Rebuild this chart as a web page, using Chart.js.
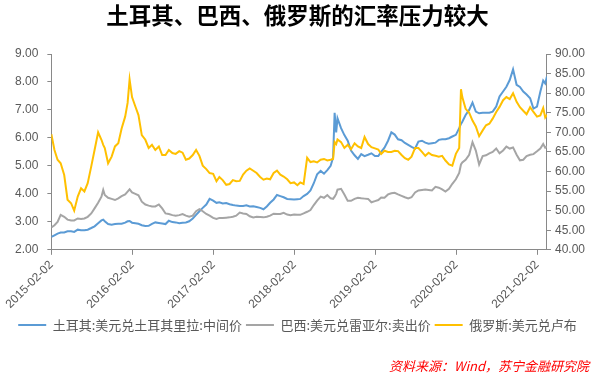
<!DOCTYPE html>
<html><head><meta charset="utf-8">
<script src="https://cdn.jsdelivr.net/npm/chart.js@4.4.1/dist/chart.umd.min.js"></script>
<style>html,body{margin:0;padding:0;background:#fff}</style>
</head><body>
<canvas id="c" width="595" height="377"></canvas>
<script>
const chartTitle = '土耳其、巴西、俄罗斯的汇率压力较大';
const sourceNote = '资料来源：Wind，苏宁金融研究院';
const seriesNames = ['土耳其:美元兑土耳其里拉:中间价', '巴西:美元兑雷亚尔:卖出价', '俄罗斯:美元兑卢布'];
const xTickLabels = ['2015-02-02','2016-02-02','2017-02-02','2018-02-02','2019-02-02','2020-02-02','2021-02-02'];

const dates = [
'2015-02-02','2015-02-16','2015-03-02','2015-03-16','2015-04-01','2015-04-16','2015-05-02','2015-05-16','2015-06-01','2015-06-16',
'2015-07-01','2015-07-16','2015-08-01','2015-08-16','2015-09-01','2015-09-16','2015-09-24','2015-10-01','2015-10-16','2015-11-01',
'2015-11-16','2015-12-01','2015-12-16','2016-01-01','2016-01-12','2016-01-21','2016-02-01','2016-02-16','2016-03-01','2016-03-16',
'2016-04-01','2016-04-16','2016-05-01','2016-05-16','2016-06-01','2016-06-16','2016-07-01','2016-07-16','2016-08-01',
'2016-08-16','2016-09-01','2016-09-16','2016-10-01','2016-10-16','2016-11-01','2016-11-16','2016-12-01','2016-12-16',
'2017-01-01','2017-01-16','2017-02-01','2017-02-16','2017-03-01','2017-03-16','2017-04-01','2017-04-16','2017-05-01','2017-05-16',
'2017-06-01','2017-06-16','2017-07-01','2017-07-16','2017-08-01','2017-08-16','2017-09-01','2017-09-16','2017-10-01','2017-10-16',
'2017-11-01','2017-11-16','2017-12-01','2017-12-16','2018-01-01','2018-01-16','2018-02-01','2018-02-16',
'2018-03-01','2018-03-16','2018-04-01','2018-04-16','2018-05-01','2018-05-16','2018-06-01','2018-06-16','2018-07-01','2018-07-16',
'2018-07-27','2018-08-03','2018-08-10','2018-08-16','2018-09-01','2018-09-16','2018-10-01','2018-10-16','2018-11-01','2018-11-16',
'2018-12-01','2018-12-16','2019-01-01','2019-01-16','2019-02-01','2019-02-16','2019-03-01','2019-03-16','2019-04-01','2019-04-16',
'2019-05-01','2019-05-16','2019-06-01','2019-06-16','2019-07-01','2019-07-16','2019-08-01',
'2019-08-16','2019-09-01','2019-09-16','2019-10-01','2019-10-16','2019-11-01','2019-11-16','2019-12-01','2019-12-16',
'2020-01-01','2020-01-16','2020-02-01','2020-02-16','2020-02-24','2020-03-01','2020-03-16','2020-04-01','2020-04-16','2020-05-01',
'2020-05-16','2020-06-01','2020-06-16','2020-07-01','2020-07-16','2020-08-01','2020-08-16','2020-09-01','2020-09-16','2020-10-01',
'2020-10-16','2020-11-01','2020-11-16','2020-12-01','2020-12-16','2021-01-01','2021-01-16','2021-02-01','2021-02-16','2021-03-01',
'2021-03-10','2021-03-18'
];

const turkey = [
2.46,2.52,2.58,2.62,2.62,2.66,2.66,2.64,2.72,2.70,
2.70,2.72,2.78,2.84,2.95,3.05,3.08,3.02,2.92,2.90,
2.92,2.93,2.93,2.97,3.02,3.03,2.97,2.95,2.93,2.88,
2.85,2.86,2.93,2.98,2.96,2.94,2.92,3.04,2.99,
2.98,2.95,2.97,2.98,3.02,3.12,3.25,3.38,3.50,
3.62,3.82,3.76,3.68,3.70,3.66,3.67,3.63,3.60,3.58,
3.57,3.57,3.59,3.55,3.56,3.53,3.50,3.45,3.55,3.68,
3.80,3.96,3.92,3.88,3.82,3.81,3.80,3.81,
3.82,3.92,4.00,4.12,4.38,4.70,4.82,4.72,4.85,5.00,
5.30,6.90,6.20,6.70,6.35,6.10,5.90,5.55,5.38,5.25,
5.42,5.35,5.40,5.45,5.35,5.35,5.50,5.65,5.90,6.20,
6.12,5.95,5.92,5.82,5.75,5.68,5.62,
5.87,5.90,5.83,5.79,5.81,5.83,5.93,5.95,5.95,
5.99,6.05,6.11,6.35,6.50,6.58,6.82,7.00,7.26,6.94,
6.88,6.90,6.90,6.90,6.94,7.12,7.48,7.66,7.83,8.07,
8.45,7.90,7.82,7.66,7.55,7.42,7.05,7.12,7.65,8.05,
7.95,8.20
];

const brazil = [
2.80,2.88,3.00,3.25,3.18,3.08,3.05,3.05,3.12,3.10,
3.12,3.18,3.30,3.48,3.68,3.90,4.14,3.96,3.86,3.82,
3.78,3.84,3.92,3.98,4.08,4.16,4.05,4.00,3.95,3.72,
3.62,3.58,3.55,3.55,3.62,3.48,3.30,3.28,3.24,
3.22,3.24,3.28,3.22,3.18,3.22,3.38,3.45,3.38,
3.28,3.22,3.14,3.10,3.14,3.14,3.15,3.16,3.18,3.22,
3.33,3.30,3.28,3.20,3.16,3.18,3.17,3.16,3.18,3.22,
3.29,3.28,3.28,3.32,3.26,3.24,3.26,3.25,
3.25,3.30,3.36,3.42,3.60,3.76,3.90,3.86,3.96,3.84,
3.82,3.90,4.00,4.15,4.18,3.98,3.75,3.75,3.82,3.86,
3.84,3.83,3.82,3.70,3.74,3.78,3.87,3.86,3.98,4.02,
4.04,3.98,3.93,3.88,3.84,3.88,4.05,
4.12,4.14,4.16,4.14,4.12,4.25,4.22,4.16,4.08,
4.18,4.36,4.52,4.75,5.05,5.12,5.22,5.40,5.85,5.55,
5.05,5.35,5.38,5.45,5.50,5.62,5.45,5.55,5.69,5.62,
5.66,5.40,5.20,5.22,5.35,5.40,5.42,5.52,5.62,5.78,
5.65,5.70
];

const russia = [
69.5,65.5,63.0,62.1,59.1,52.8,51.9,50.0,53.6,55.7,
54.9,57.0,61.3,65.5,70.0,68.1,66.8,66.0,62.1,63.8,
66.4,67.2,71.0,74.0,77.5,83.5,79.0,76.6,74.4,69.3,
68.1,66.0,66.8,65.5,66.4,64.2,64.2,65.5,64.7,
64.5,65.2,64.8,63.0,63.3,64.2,65.5,64.0,61.5,
60.6,59.6,59.4,57.5,58.6,57.8,56.6,56.8,57.8,57.5,
57.6,59.2,60.2,60.8,60.2,59.6,58.6,57.9,58.2,58.0,
59.6,60.2,59.2,58.7,58.0,57.0,57.2,56.5,
57.2,56.8,63.5,62.4,62.6,62.3,63.0,63.2,62.8,63.0,
63.2,67.5,67.0,68.2,67.5,66.0,66.8,65.7,67.2,66.4,
66.0,68.8,67.0,66.2,65.9,65.6,64.5,65.3,65.0,65.0,
65.3,65.2,64.2,63.4,63.0,63.8,66.0,
66.0,65.0,64.0,64.8,64.2,64.0,63.8,64.0,62.8,
61.8,61.5,64.5,66.0,81.0,79.0,76.0,75.0,73.0,71.5,
69.0,70.5,71.8,72.2,73.5,75.2,76.5,78.2,79.0,78.5,
80.0,77.8,76.4,75.5,74.6,76.4,75.2,74.0,74.3,76.2,
73.8,74.5
];

const DAY = 86400000;
const t0 = Date.parse(dates[0]);
const dayNum = s => Math.round((Date.parse(s) - t0) / DAY);
const xs = dates.map(dayNum);
const toPoints = arr => arr.map((v, i) => ({x: xs[i], y: v}));
const tickDays = xTickLabels.map(dayNum);

Chart.defaults.font.family = "'Liberation Sans', 'Noto Sans CJK SC', sans-serif";
Chart.defaults.color = '#595959';

const axisGrey = '#898989';

new Chart(document.getElementById('c'), {
  type: 'line',
  data: {
    datasets: [
      {label: seriesNames[0], data: toPoints(turkey), yAxisID: 'y', borderColor: '#5B9BD5', backgroundColor: '#5B9BD5', borderWidth: 2, pointRadius: 0, order: 2},
      {label: seriesNames[1], data: toPoints(brazil), yAxisID: 'y', borderColor: '#A5A5A5', backgroundColor: '#A5A5A5', borderWidth: 2, pointRadius: 0, order: 1},
      {label: seriesNames[2], data: toPoints(russia), yAxisID: 'y1', borderColor: '#FFC000', backgroundColor: '#FFC000', borderWidth: 2, pointRadius: 0, order: 0}
    ]
  },
  options: {
    responsive: false,
    animation: false,
    devicePixelRatio: 1,
    layout: {padding: {left: 6, right: 6, top: 0, bottom: 3}},
    scales: {
      x: {
        type: 'linear',
        min: 0,
        max: xs[xs.length - 1],
        afterBuildTicks: axis => { axis.ticks = tickDays.map(v => ({value: v})); },
        ticks: {
          autoSkip: false, minRotation: 45, maxRotation: 45, padding: 3,
          color: '#595959', font: {size: 12},
          callback: v => { const i = tickDays.indexOf(v); return i >= 0 ? xTickLabels[i] : null; }
        },
        grid: {display: true, drawOnChartArea: false, drawTicks: true, tickLength: 5, color: axisGrey},
        border: {display: true, color: axisGrey}
      },
      y: {
        position: 'left', min: 2, max: 9,
        ticks: {stepSize: 1, padding: 9, color: '#595959', font: {size: 12}, callback: v => Number(v).toFixed(2)},
        grid: {drawOnChartArea: false, tickLength: 4, color: axisGrey},
        border: {display: true, color: axisGrey}
      },
      y1: {
        position: 'right', min: 40, max: 90,
        ticks: {stepSize: 5, padding: 4, color: '#595959', font: {size: 12}, callback: v => Number(v).toFixed(2)},
        grid: {drawOnChartArea: false, tickLength: 4, color: axisGrey},
        border: {display: true, color: axisGrey}
      }
    },
    plugins: {
      title: {
        display: true, text: chartTitle, color: '#000000',
        font: {size: 22.5, weight: 'bold', family: "'Noto Sans CJK SC', sans-serif"},
        padding: {top: 2, bottom: 25}
      },
      legend: {
        position: 'bottom',
        labels: {
          usePointStyle: true, pointStyle: 'line', pointStyleWidth: 28,
          color: '#595959', font: {size: 13, family: "'Noto Sans CJK SC', sans-serif"}, padding: 4,
          sort: (a, b) => a.datasetIndex - b.datasetIndex
        }
      },
      subtitle: {
        display: true, text: sourceNote, position: 'bottom', align: 'end',
        color: '#FF0000', font: {size: 13, style: 'italic', family: "'Noto Sans CJK SC', sans-serif"},
        padding: {top: 17, bottom: 0}
      },
      tooltip: {enabled: false}
    }
  }
});
</script>
</body></html>
